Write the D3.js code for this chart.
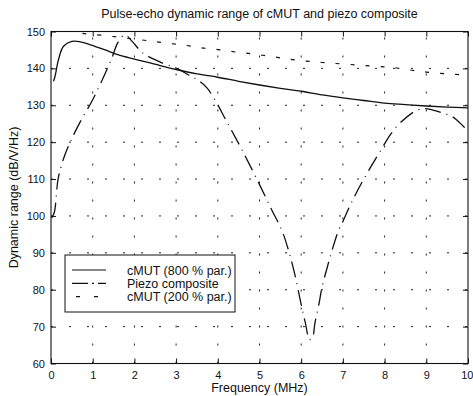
<!DOCTYPE html>
<html><head><meta charset="utf-8">
<script src="https://cdn.jsdelivr.net/npm/d3@7"></script>
<style>
html,body{margin:0;padding:0;background:#fff;}
text{font-family:"Liberation Sans",Arial,Helvetica,sans-serif;fill:#111;}
</style></head>
<body><svg id="c" width="473" height="396"></svg>
<script>
const xTicks = [0,1,2,3,4,5,6,7,8,9,10];
const yTicks = [60,70,80,90,100,110,120,130,140,150];

const cmut800X = [0.06,0.1,0.18,0.3,0.5,0.7,0.95,1.3,1.6,2.0,2.4,3.0,3.5,4.0,4.5,5.0,5.5,6.0,6.5,7.0,7.5,8.0,8.5,9.0,9.5,10];
const cmut800Y = [136.5,138,142.4,146,147.3,147.2,146.4,145,143.7,142.5,141.4,139.7,138.5,137.6,136.5,135.5,134.6,133.8,132.8,132,131.3,130.6,130.2,129.8,129.5,129.3];

const piezoX = [0.02,0.08,0.17,0.3,0.46,0.7,1.0,1.25,1.46,1.6,1.77,1.94,2.2,2.66,3.0,3.3,3.5,3.74,4.0,4.17,4.3,4.6,5.0,5.3,5.54,5.7,5.85,6.0,6.1,6.2,6.27,6.33,6.43,6.5,6.64,6.74,6.9,7.0,7.2,7.5,7.94,8.13,8.37,8.78,8.97,9.16,9.4,9.64,9.88,10.0];
const piezoY = [99.5,101,110,115.5,120,125.5,131.5,137.4,142.8,146.9,149.1,147.4,144.2,141.5,140.1,138.2,137,134.7,130.1,126.5,123.8,117.5,108.5,101.5,96,90.5,84,76,71,66.5,67,71,76.4,80.7,86.7,90.7,96.2,98.5,103.5,110,118.4,121.9,125.2,128.7,129.1,128.7,127.9,126.8,124.4,123];

const cmut200X = [0.4,0.75,1.2,1.8,2.4,2.8,3.2,3.6,4.0,4.45,4.85,5.3,5.7,6.1,6.5,7.0,7.5,8.0,8.3,8.65,9.0,9.5,10];
const cmut200Y = [150.2,149.5,149,148.2,147.4,146.8,146.3,145.6,145.1,144.4,143.9,143.2,142.5,142.0,141.6,141.2,140.8,140.4,140.1,139.5,139,138.5,138.2];

const legendLabels = ["cMUT (800 % par.)","Piezo composite","cMUT (200 % par.)"];
const titleText = "Pulse-echo dynamic range of cMUT and piezo composite";
const xLabel = "Frequency (MHz)";
const yLabel = "Dynamic range (dB/V/Hz)";

const svg = d3.select("#c");
const L = 51, R = 468, T = 31.5, B = 363.5;
const x = d3.scaleLinear().domain([0,10]).range([L,R]);
const y = d3.scaleLinear().domain([60,150]).range([B,T]);

svg.append("defs").append("clipPath").attr("id","clip")
  .append("rect").attr("x",L).attr("y",T).attr("width",R-L).attr("height",B-T);

// grid
const grid = svg.append("g").attr("stroke","#222").attr("stroke-width",1).attr("stroke-dasharray","2,16");
grid.selectAll(".gx").data(xTicks.slice(1,-1)).join("line")
  .attr("x1",d=>x(d)).attr("x2",d=>x(d)).attr("y1",B).attr("y2",T);
grid.selectAll(".gy").data(yTicks.slice(1,-1)).join("line")
  .attr("y1",d=>y(d)).attr("y2",d=>y(d)).attr("x1",L).attr("x2",R);

// axes
const tl = 5;
const ax = svg.append("g").attr("transform",`translate(0,${B})`)
  .call(d3.axisBottom(x).tickValues(xTicks).tickSize(-tl).tickPadding(6).tickFormat(d3.format("d")));
const axTop = svg.append("g").attr("transform",`translate(0,${T})`)
  .call(d3.axisTop(x).tickValues(xTicks).tickSize(-tl).tickFormat(""));
const ay = svg.append("g").attr("transform",`translate(${L},0)`)
  .call(d3.axisLeft(y).tickValues(yTicks).tickSize(-tl).tickPadding(6));
const ayR = svg.append("g").attr("transform",`translate(${R},0)`)
  .call(d3.axisRight(y).tickValues(yTicks).tickSize(-tl).tickFormat(""));
[ax,axTop,ay,ayR].forEach(g=>{
  g.select(".domain").remove();
  g.selectAll("line").attr("stroke","#111");
  g.selectAll("text").attr("font-size","11px").attr("font-family","Liberation Sans, Arial, sans-serif").attr("fill","#111");
});
ax.selectAll("text").attr("dy","0.9em");
// keep the last label inside the window
ax.selectAll(".tick").filter(d=>d===10).select("text").attr("text-anchor","end").attr("dx","5");

svg.append("rect").attr("x",L).attr("y",T).attr("width",R-L).attr("height",B-T)
  .attr("fill","none").attr("stroke","#111").attr("stroke-width",1.1);

// lines
const line = d3.line().x(d=>x(d[0])).y(d=>y(d[1])).curve(d3.curveCatmullRom.alpha(0.5));
const plot = svg.append("g").attr("clip-path","url(#clip)").attr("fill","none").attr("stroke","#111");
plot.append("path").datum(cmut800X.map((v,i)=>[v,cmut800Y[i]])).attr("d",line).attr("stroke-width",1.3);
plot.append("path").datum(piezoX.map((v,i)=>[v,piezoY[i]])).attr("d",line).attr("stroke-width",1.3)
  .attr("stroke-dasharray","16,6,1,6");
plot.append("path").datum(cmut200X.map((v,i)=>[v,cmut200Y[i]])).attr("d",line).attr("stroke-width",1.2)
  .attr("stroke-dasharray","4,11");

// legend
const lg = svg.append("g");
lg.append("rect").attr("x",65).attr("y",255).attr("width",170).attr("height",57)
  .attr("fill","#fff").attr("stroke","#111").attr("stroke-width",1);
const rowY = [270,283.3,296.7];
legendLabels.forEach((t,i)=>{
  const ln = lg.append("line").attr("x1",72).attr("x2",106).attr("y1",rowY[i]).attr("y2",rowY[i])
    .attr("stroke","#111").attr("stroke-width",1.2);
  if (i===1) ln.attr("stroke-dasharray","16,4,2,4");
  if (i===2) ln.attr("stroke-dasharray","4,14").attr("stroke-dashoffset",-4);
  lg.append("text").attr("x",127).attr("y",rowY[i]+4.5).attr("font-size","12.5px").text(t);
});

// titles
svg.append("text").attr("x",(L+R)/2).attr("y",18).attr("text-anchor","middle").attr("font-size","12.5px").text(titleText);
svg.append("text").attr("x",(L+R)/2).attr("y",392).attr("text-anchor","middle").attr("font-size","12.5px").text(xLabel);
svg.append("text").attr("transform",`translate(18,${(T+B)/2}) rotate(-90)`).attr("text-anchor","middle").attr("font-size","12.5px").text(yLabel);
</script></body></html>
